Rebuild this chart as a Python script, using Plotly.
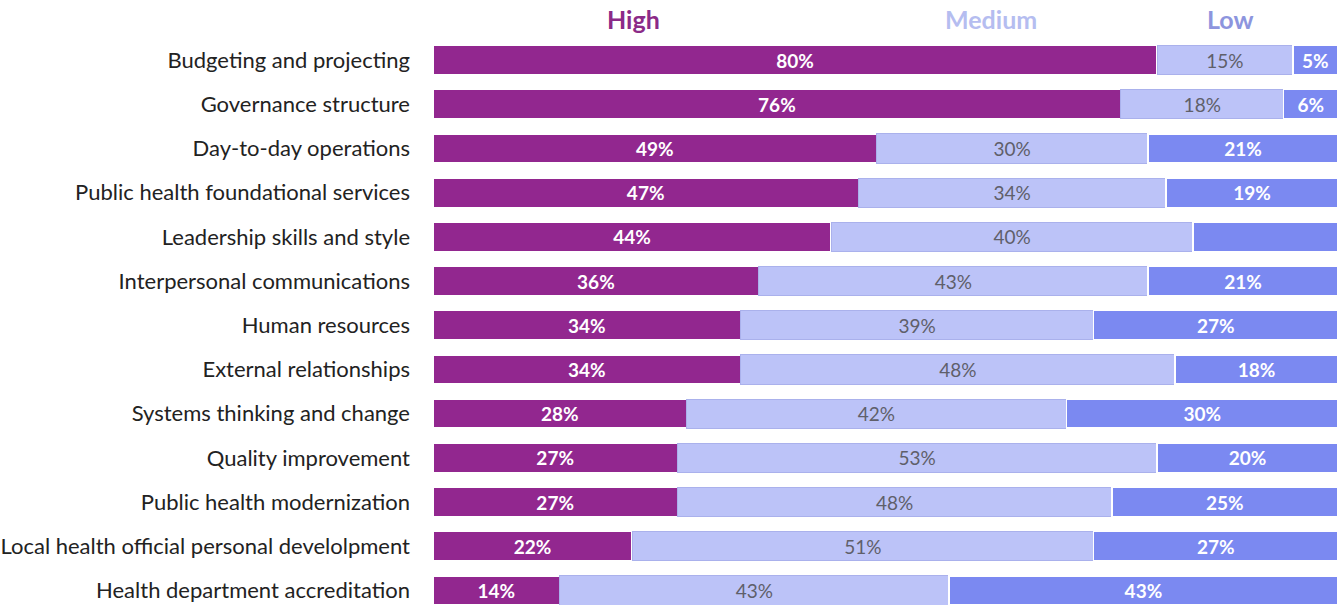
import plotly.graph_objects as go

categories = [
    "Budgeting and projecting",
    "Governance structure",
    "Day-to-day operations",
    "Public health foundational services",
    "Leadership skills and style",
    "Interpersonal communications",
    "Human resources",
    "External relationships",
    "Systems thinking and change",
    "Quality improvement",
    "Public health modernization",
    "Local health official personal develolpment",
    "Health department accreditation",
]
high = [80, 76, 49, 47, 44, 36, 34, 34, 28, 27, 27, 22, 14]
medium = [15, 18, 30, 34, 40, 43, 39, 48, 42, 53, 48, 51, 43]
low = [5, 6, 21, 19, 16, 21, 27, 18, 30, 20, 25, 27, 43]
low_labels = ["5%", "6%", "21%", "19%", "", "21%", "27%", "18%", "30%", "20%", "25%", "27%", "43%"]

FONT = "Lato"
C_HIGH = "#92278F"
C_MED = "#BCC3F8"
C_LOW = "#7B89F1"

fig = go.Figure()
fig.add_trace(go.Bar(
    y=categories, x=high, orientation="h", name="High",
    marker=dict(color=C_HIGH, line=dict(color="white", width=1.5)),
    text=[f"{v}%" for v in high], textposition="inside", insidetextanchor="middle",
    textangle=0, insidetextfont=dict(family=FONT, size=19, color="white", weight="bold"),
    hoverinfo="skip",
))
fig.add_trace(go.Bar(
    y=categories, x=medium, orientation="h", name="Medium",
    marker=dict(color=C_MED, line=dict(color="#AAB1EC", width=1)),
    text=[f"{v}%" for v in medium], textposition="inside", insidetextanchor="middle",
    textangle=0, insidetextfont=dict(family=FONT, size=19, color="#5f5f6a"),
    hoverinfo="skip",
))
fig.add_trace(go.Bar(
    y=categories, x=low, orientation="h", name="Low",
    marker=dict(color=C_LOW, line=dict(color="white", width=1.5)),
    text=low_labels, textposition="inside", insidetextanchor="middle",
    textangle=0, insidetextfont=dict(family=FONT, size=19, color="white", weight="bold"),
    hoverinfo="skip",
))

headers = [("High", 0.2215, "#8B2A88"), ("Medium", 0.6166, "#B5BDF0"), ("Low", 0.8807, "#8D95DE")]
for txt, xp, col in headers:
    fig.add_annotation(text=txt, x=xp, xref="paper", xanchor="center",
                       y=1.0, yref="paper", yanchor="middle", yshift=19,
                       showarrow=False,
                       font=dict(family=FONT, size=25, color=col, weight="bold"))

fig.update_layout(
    barmode="stack",
    bargap=0.34,
    width=1338, height=605,
    margin=dict(l=433, r=0, t=38, b=0),
    paper_bgcolor="white", plot_bgcolor="white",
    showlegend=False,
    xaxis=dict(range=[0, 100], visible=False, fixedrange=True),
    yaxis=dict(
        categoryorder="array", categoryarray=categories,
        range=[12.33, -0.5], showgrid=False, zeroline=False, showline=False,
        ticks="", ticklabelstandoff=22,
        tickfont=dict(family=FONT, size=22, color="#222222"),
    ),
)

fig.write_html("out.html")
